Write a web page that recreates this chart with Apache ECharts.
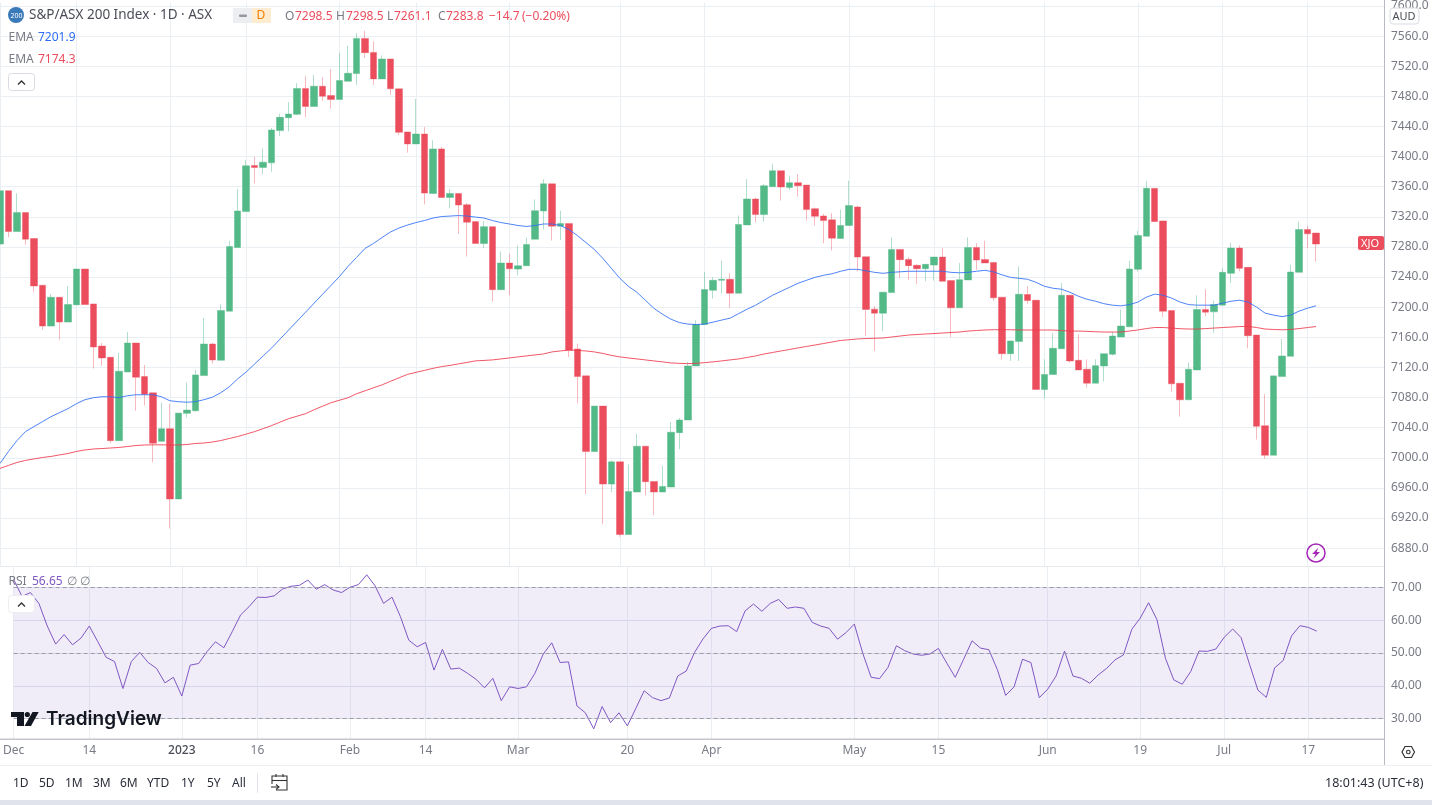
<!DOCTYPE html>
<html><head><meta charset="utf-8">
<style>html,body{margin:0;padding:0;background:#fff;overflow:hidden}#c{width:1432px;height:805px}</style>
<script src="https://cdn.jsdelivr.net/npm/echarts@6/dist/echarts.min.js"></script>
</head><body><div id="c"></div>
<script>
const tradingDays = {
 '2022-12':[1,2,5,6,7,8,9,12,13,14,15,16,19,20,21,22,23,28,29,30],
 '2023-01':[3,4,5,6,9,10,11,12,13,16,17,18,19,20,23,24,25,27,30,31],
 '2023-02':[1,2,3,6,7,8,9,10,13,14,15,16,17,20,21,22,23,24,27,28],
 '2023-03':[1,2,3,6,7,8,9,10,13,14,15,16,17,20,21,22,23,24,27,28,29,30,31],
 '2023-04':[3,4,5,6,11,12,13,14,17,18,19,20,21,24,26,27,28],
 '2023-05':[1,2,3,4,5,8,9,10,11,12,15,16,17,18,19,22,23,24,25,26,29,30,31],
 '2023-06':[1,2,5,6,7,8,9,13,14,15,16,19,20,21,22,23,26,27,28,29,30],
 '2023-07':[3,4,5,6,7,10,11,12,13,14,17,18]
};
const futureSlots = ['f1','f2','f3','f4','f5','f6','f7','f8'];
const xTicks = {'2022-12-1':'Dec','2022-12-14':'14','2023-01-3':'2023','2023-01-16':'16','2023-02-1':'Feb','2023-02-14':'14','2023-03-1':'Mar','2023-03-20':'20','2023-04-3':'Apr','2023-05-1':'May','2023-05-15':'15','2023-06-1':'Jun','2023-06-19':'19','2023-07-3':'Jul','2023-07-17':'17'};
const priceTicks = [6880,6920,6960,7000,7040,7080,7120,7160,7200,7240,7280,7320,7360,7400,7440,7480,7520,7560,7600];
const rsiTicks = [30,40,50,60,70];
const rsiLevels = [70,50,30];

const opens = [7283.8,7354.7,7300.5,7325.6,7291.2,7229.1,7174.9,7213.2,7180.2,7203.1,
7250.7,7204.4,7148.4,7133.5,7022.8,7114,7152.4,7107.9,7086.3,7021.9,
7038.7,6945.3,7059,7062.5,7109.2,7151.1,7129.5,7194.7,7279.3,7327,
7388.2,7385.6,7391.7,7434.5,7451.7,7456.1,7490.5,7466.6,7493.5,7481.2,
7475.9,7500.1,7510.2,7557,7538.4,7503.2,7529.6,7490,7432.7,7416.8,
7430,7351.1,7410.2,7345.8,7351.1,7336.1,7313.7,7284.6,7307,7223.3,
7258.6,7250.6,7255,7290.3,7327.8,7363.9,7307.5,7311,7144.5,7108.8,
7008.3,7068.7,6965.1,6994.6,6898.1,6954.5,7015.4,6968.6,6954.5,6961.2,
7033.4,7050.2,7122,7177.1,7222.5,7235.7,7237,7218.6,7309.3,7343.7,
7323,7360,7381.2,7359.1,7365.3,7362.2,7330.9,7321.2,7316,7291.3,
7308.5,7333.1,7267,7197.4,7192.1,7219.4,7276.7,7263.5,7255.6,7251.2,
7256,7266.6,7235.3,7199.2,7236.2,7279.4,7263.5,7259.5,7213.3,7138.3,
7154.6,7216.8,7209.3,7090.7,7110.6,7144.9,7215.9,7129.5,7117.6,7099.1,
7122,7137.4,7160.4,7174,7250.3,7294.3,7357.8,7314.6,7195.6,7099.1,
7077,7116.7,7196.9,7193.8,7202.7,7245,7278.5,7252.9,7163,7042.7,
7003.4,7107.9,7134.8,7246.3,7303.1,7298.5];
const closes = [7354.7,7300.5,7325.6,7290.4,7228.2,7174.9,7213.2,7180.2,7203.5,7250.7,
7203.5,7147.1,7132.6,7022.8,7114.9,7152.4,7107,7084.5,7019.3,7038.7,
6945.3,7059.4,7063.4,7110.1,7151.1,7129.9,7195.6,7280.7,7327.8,7387.8,
7385.6,7392.6,7435.4,7452.1,7456.5,7490.5,7466.6,7493.5,7480.3,7475.9,
7501,7510.7,7557,7538,7503.2,7529.6,7490,7432.2,7416.8,7430,
7351.5,7410.2,7345.8,7351.1,7335.7,7312.8,7284.6,7307,7223.3,7258.6,
7251,7255,7283.3,7328.2,7363.9,7307.5,7311,7142.7,7107.9,7008.3,
7068.7,6965.1,6994.6,6898.1,6955.4,7015.4,6968.2,6954.5,6962,7033.9,
7050.2,7122,7177.1,7223.4,7235.7,7237,7218.6,7309.8,7343.7,7323,
7361.3,7381.2,7359.6,7365.3,7361.3,7329.6,7320.8,7315,7291.7,7308.5,
7334.9,7266.6,7197,7192.1,7219.9,7276.7,7263.1,7255.2,7251.2,7256.9,
7266.6,7234.4,7199.2,7236.6,7279.4,7262.6,7258.7,7212.4,7138.3,7155,
7217.2,7208.8,7090.7,7110.6,7145.4,7215.9,7128.6,7116.7,7099.1,7122.4,
7138.3,7161.7,7174.9,7250.7,7295.2,7357.8,7313.7,7194.7,7098.2,7077,
7117.6,7196.9,7193.4,7203.5,7246.3,7278.5,7251.6,7162.1,7041.8,7003.4,
7108.8,7135.2,7246.7,7303.1,7297.4,7283.8];
const lows = [7283.8,7293,7300.5,7282.9,7220.3,7170,7174.9,7156.8,7180.2,7203.1,
7203.5,7118.5,7122.4,7019.3,7022.8,7114,7062.5,7069.5,6994.2,7021.9,
6906,6945.3,7053.7,7061.2,7109.2,7125.1,7129.5,7194.7,7279.3,7327,
7364.4,7376.3,7379.8,7427.4,7433.6,7454.8,7452.5,7466.6,7474.1,7463.6,
7475.9,7500.1,7495.2,7531,7495.2,7503.2,7482,7428.3,7405.3,7416.8,
7336.6,7351.1,7345.8,7331.3,7297.4,7267.4,7284.6,7278.4,7207.9,7223.3,
7215.8,7242.3,7255,7290.3,7303.5,7288.5,7289.4,7133.9,7072.2,6951.5,
7008.3,6911.8,6954.5,6895,6898.1,6954.5,6950.1,6923.7,6954.5,6961.2,
7011.4,7050.2,7122,7177.1,7211.5,7218.6,7199.2,7218.6,7309.3,7312.9,
7313.7,7360,7341.5,7355.6,7346.8,7315,7308.5,7285.1,7275.4,7291.3,
7308.5,7247.6,7161.7,7141.9,7168.3,7219.4,7238.8,7236.2,7230.9,7234.4,
7235.3,7234.4,7160.4,7199.2,7236.2,7249.8,7258.7,7208.9,7130.8,7128.6,
7128.6,7204.4,7090.7,7078.8,7110.6,7144.9,7126.4,7116.7,7093.4,7099.1,
7101.3,7136,7160.4,7174,7247.6,7294.3,7313.7,7186.8,7088,7054.6,
7077,7116.7,7188,7166,7202.7,7232.2,7247.6,7145.4,7024.2,6998.6,
7003.4,7107.9,7134.8,7246,7278.5,7261.1];
const highs = [7358,7354.7,7351.2,7325.6,7291.2,7229.1,7217.6,7213.2,7227.8,7250.7,
7250.7,7204.4,7152.4,7133.5,7139.2,7167,7152.4,7123.3,7086.3,7073,
7071.3,7059.4,7100,7116.7,7185.9,7152.8,7203.5,7288.2,7356.9,7395.3,
7399.7,7410.7,7438,7457,7472.4,7497.5,7506.8,7508.5,7505.4,7516.5,
7537.6,7547.2,7564,7567,7553,7534,7529.6,7490,7432.7,7476.7,
7439.3,7421.6,7412.8,7356.9,7351.1,7338.3,7313.7,7314.5,7307,7274,
7270.9,7282,7292.5,7343.2,7370,7363.9,7328.2,7311,7151.5,7108.8,
7068.7,7068.7,6996.4,6994.6,6991.1,7031.7,7015.4,6968.6,6989.8,7047.5,
7052.8,7127.3,7182.8,7246.8,7239.7,7261.7,7245,7321.7,7370.2,7345.5,
7363.5,7390.4,7381.2,7374.6,7376.8,7362.2,7332.3,7323.9,7324.8,7329.6,
7368,7334.9,7267,7201.4,7219.9,7292.6,7276.7,7266.2,7257,7256.9,
7266.6,7278.5,7235.3,7258.7,7292.6,7285.1,7288.2,7259.5,7213.3,7156,
7254.2,7227.8,7209.3,7130.8,7166,7232.2,7215.9,7163.9,7130.8,7130.8,
7138.3,7167.4,7197,7261.7,7301.4,7367.5,7357.8,7314.6,7195.6,7099.1,
7126.4,7215.9,7223.8,7208.8,7252,7285.5,7282,7252.9,7163,7084.6,
7108.8,7157.7,7256.4,7313.7,7308,7298.5];
const emaBlue = [6992.5,7008.4,7022.9,7034.8,7041.4,7048,7054.6,7059.9,7065.2,7071.8,
7077.1,7079.8,7081.1,7081.1,7079.8,7082.4,7083.7,7083.7,7083.7,7081.1,
7075.8,7074.5,7073.8,7074.5,7077.1,7080.4,7086.4,7094.3,7104.9,7114.1,
7124.7,7135.3,7145.9,7157.8,7169.7,7181.6,7193.5,7205.4,7217.3,7229.1,
7241,7254.3,7266.2,7278.1,7284.7,7292.6,7299.9,7305.2,7309.1,7312.4,
7315.1,7318.4,7320.4,7321,7321.7,7321,7319.7,7318.4,7315.1,7312.4,
7310.5,7308.5,7307.2,7308.5,7310.5,7310.5,7308.5,7303.2,7295.2,7286,
7276.7,7264.8,7251.6,7238.4,7227.8,7219.9,7209.3,7198.7,7190.8,7184.2,
7179.6,7177.6,7176.9,7177.6,7180.2,7182.9,7185.5,7191.5,7197.4,7202.7,
7209.3,7215.9,7221.2,7226.5,7231.8,7235.8,7239.7,7242.4,7244.4,7247.7,
7250.3,7250.3,7248.3,7246.3,7245,7246.3,7247,7247.7,7247.7,7247.7,
7247.7,7247.7,7246.3,7245.7,7246.3,7247.7,7249,7247,7243,7239.7,
7238.4,7237.1,7233.1,7227.8,7225.2,7223.9,7219.9,7214.6,7210.6,7208,
7204.7,7202.7,7201.8,7203.4,7206.7,7213.3,7217.3,7215.9,7212,7206.7,
7203.4,7202.7,7202.7,7202.7,7205.4,7208,7209.3,7206.7,7200.1,7192.1,
7189.5,7187.5,7189.5,7194.8,7198.7,7201.9];
const emaRed = [6985.9,6989.9,6993.8,6996.5,6998.5,7000.4,7001.8,7003.8,7005.7,7008.4,
7010.4,7011.7,7012.3,7013,7013.7,7015,7016.3,7017,7017.2,7017.2,
7017,7017,7017.6,7019,7019.6,7020.9,7022.9,7025.6,7028.2,7031.5,
7034.8,7038.8,7042.8,7047.4,7052,7055.3,7058.6,7063.9,7068.5,7073.2,
7076.5,7079.8,7085.1,7089,7093,7096.9,7101.6,7106.2,7110.8,7113.5,
7116.1,7118.8,7121.1,7122.7,7124.7,7126.7,7128.7,7129.3,7130,7131.3,
7132.6,7134,7135.3,7136.6,7137.9,7140.6,7141.9,7143.2,7142.6,7141.9,
7140.6,7138.6,7136,7134,7132.6,7131.3,7130,7128.7,7127.4,7126,
7125.4,7125.1,7125.4,7126.4,7127.4,7128.7,7130,7131.3,7133.3,7135.3,
7137.9,7139.9,7141.9,7143.9,7145.9,7147.9,7149.8,7151.8,7153.8,7155.8,
7156.8,7157.8,7158.4,7158.7,7159.1,7160.4,7161.7,7163,7163.7,7164.4,
7165,7165.7,7166.4,7167,7168.3,7169,7169.7,7170.1,7170.1,7170.1,
7169.7,7169.7,7169.7,7169.7,7169.7,7169,7168.3,7168.3,7167.9,7167.4,
7167,7167,7167,7168.3,7169.7,7171.6,7173,7173,7172.3,7171.4,
7171,7171,7171.6,7172.3,7173,7173.6,7174.3,7174.5,7173,7171,
7170.4,7170,7170.4,7171.6,7173,7174.3];
const rsiValues = [72.4,67.2,68.4,65.1,58.2,52.7,55.6,52.5,54.5,58.2,
53.5,48.7,47.4,39.2,47.4,50.2,47.1,45.3,40.9,42.6,
36.9,46.3,46.8,50.4,53.4,51.6,56.5,61.6,64.1,67,
66.9,67.4,69.5,70.3,70.6,72.2,69.4,70.8,69.2,68.4,
70,70.8,73.8,70.4,65.1,67,61.1,53.9,51.9,53.2,
44.8,51.1,45.1,45.4,43.8,42,39.4,42.3,35.5,39.7,
39.2,39.7,43.8,49.7,53.1,47.1,47.3,33.9,31.8,26.9,
33.7,28.8,31.8,27.8,33.1,38.5,36.4,35.5,36.3,43,
44.5,50.2,54.3,57.5,58.2,58.3,56.5,62.8,64.9,62.7,
65.1,66.3,63.6,64,63.6,59.3,58.2,57.5,54.2,56.2,
58.8,49.9,42.6,42.2,45.6,52.2,50.7,49.7,49.3,49.7,
51.4,46.9,42.6,48.1,53.7,51.5,51,45,37.1,39.7,
48.1,47.1,36.4,39,43,50.6,43,42.3,40.8,43.3,
45.3,47.9,49.4,57.2,60.6,65.3,60.1,48.4,41.8,40.5,
44.3,50.6,50.5,51.2,54.8,57.3,54.7,46.6,38.7,36.5,
45.5,47.7,55.2,58.3,57.8,56.65];

const categories = Object.entries(tradingDays)
  .flatMap(([m, days]) => days.map(d => m + '-' + d)).concat(futureSlots);
const candleData = opens.map((o, i) => [o, closes[i], lows[i], highs[i]]);

const GREEN = '#53b987', RED = '#eb4d5c', BLUE = '#2f6df6', PURPLE = '#7e57c2';
const GRID = '#eaeff4', GREY = '#787b86', DARK = '#4a4d57';
const FONT = '"Noto Sans", "Open Sans", sans-serif';

const isTick = (i, v) => !!xTicks[v];
const xBase = {
  type: 'category', data: categories, boundaryGap: false,
  axisLine: {show: false}, axisTick: {show: false},
  splitLine: {show: true, interval: isTick, lineStyle: {color: GRID, width: 1}}
};

function txt(x, y, s, fill, size, extra) {
  return Object.assign({type: 'text', z: 20, style: Object.assign({x, y, text: s, fill, font: (size || 12) + 'px ' + FONT, textVerticalAlign: 'middle', verticalAlign: 'middle'}, {})}, extra || {});
}
function box(x, y, w, h, fill, stroke, r) {
  return {type: 'rect', z: 19, shape: {x, y, width: w, height: h, r: r || 0}, style: {fill: fill || 'transparent', stroke: stroke || 'transparent', lineWidth: 1}};
}
function poly(pts, stroke, lw) {
  return {type: 'polyline', z: 21, shape: {points: pts}, style: {fill: 'transparent', stroke, lineWidth: lw || 1.3}};
}

const rangeButtons = [['1D',13],['5D',39],['1M',65],['3M',93],['6M',120],['YTD',147],['1Y',181],['5Y',207],['All',232]];
const ohlcRow = [['O',285,GREY],['7298.5',295,RED],['H',336,GREY],['7298.5',346,RED],['L',387,GREY],['7261.1',394,RED],['C',438,GREY],['7283.8',446,RED],['−14.7',489,RED],['(−0.20%)',522,RED]];

const chrome = [
  // panel separators and price-scale edge
  {type:'rect', z:1, shape:{x:0,y:566,width:1384,height:1}, style:{fill:'#e6e9ee'}},
  {type:'rect', z:1, shape:{x:0,y:738.5,width:1384,height:1.5}, style:{fill:'#c4c6cc'}},
  {type:'rect', z:1, shape:{x:1384,y:0,width:1,height:765}, style:{fill:'#b8bbc2'}},
  {type:'rect', z:1, shape:{x:0,y:765,width:1432,height:1}, style:{fill:'#eceef2'}},
  {type:'rect', z:1, shape:{x:0,y:800,width:1432,height:5}, style:{fill:'#e0e3eb'}},
  // header
  {type:'circle', z:19, shape:{cx:16,cy:15,r:8}, style:{fill:'#3b7ab8'}},
  txt(10.5,15.5,'200','#fff',7),
  txt(29,15.5,'S&P/ASX 200 Index · 1D · ASX',DARK,13.5),
  box(233,8,19,15,'#eceef2',null,0),
  box(252,8,19,15,'#fdeccf',null,0),
  {type:'rect', z:20, shape:{x:239,y:14.5,width:8,height:2.5,r:1}, style:{fill:'#9598a1'}},
  txt(256.5,15.5,'D','#f57c00',12,{}),
  ...ohlcRow.map(r => txt(r[1],16.5,r[0],r[2],12)),
  txt(8.5,38,'EMA',GREY,12), txt(38,38,'7201.9',BLUE,12),
  txt(8.5,60,'EMA',GREY,12), txt(38,60,'7174.3',RED,12),
  box(8.5,73.5,26,17,'#fff','#d8dbe2',3),
  poly([[18,84.5],[21.5,81],[25,84.5]],'#333'),
  txt(8.5,582,'RSI',GREY,12), txt(32,582,'56.65',PURPLE,12), txt(67,582,'∅',GREY,12), txt(80,582,'∅',GREY,12),
  box(8.5,595.5,26,17,'#fff','#ececf1',3),
  poly([[18,606.5],[21.5,603],[25,606.5]],'#333'),
  // AUD selector
  box(1390,8,29,16,'#fff','#d8dbe2',3),
  txt(1392.5,16.5,'AUD',DARK,11),
  // XJO tag
  box(1358,236,26,14,RED,null,2),
  txt(1361,243.5,'XJO','#fff',11),
  // lightning icon
  {type:'circle', z:20, shape:{cx:1316,cy:553,r:9}, style:{fill:'#fff',stroke:'#a626b8',lineWidth:1.5}},
  {type:'polygon', z:21, shape:{points:[[1318.5,547.5],[1312,554],[1315.5,554],[1313.5,558.5],[1320,552],[1316.5,552]]}, style:{fill:'#a626b8'}},
  // TradingView mark
  {type:'polygon', z:20, shape:{points:[[11,712],[24,712],[24,726],[17,726],[17,717],[11,717]]}, style:{fill:'#131722'}},
  {type:'circle', z:20, shape:{cx:27.3,cy:714.5,r:2.6}, style:{fill:'#131722'}},
  {type:'polygon', z:20, shape:{points:[[32.5,712],[38.7,712],[31,726],[24.5,726]]}, style:{fill:'#131722'}},
  {type:'text', z:20, style:{x:46,y:719.5,text:'TradingView',fill:'#131722',font:'600 19px Inter, '+FONT,textVerticalAlign:'middle',verticalAlign:'middle'}},
  // settings icon
  {type:'polygon', z:20, shape:{points:[[1402,752],[1405,746.5],[1411.5,746.5],[1414.5,752],[1411.5,757.5],[1405,757.5]]}, style:{fill:'transparent',stroke:'#333',lineWidth:1.2}},
  {type:'circle', z:20, shape:{cx:1408.3,cy:752,r:1.8}, style:{fill:'transparent',stroke:'#333',lineWidth:1.1}},
  // range bar
  ...rangeButtons.map(b => txt(b[1],783.5,b[0],'#2a2e39',12)),
  {type:'rect', z:20, shape:{x:257,y:773,width:1,height:20}, style:{fill:'#e0e3eb'}},
  poly([[272,784],[272,776],[287,776],[287,790],[276,790]],'#333',1.1),
  poly([[272,780.5],[287,780.5]],'#333',1.1),
  poly([[276,774],[276,777]],'#333',1.1), poly([[283,774],[283,777]],'#333',1.1),
  poly([[271,787],[279,787]],'#333',1.1), poly([[276,784.5],[279,787],[276,789.5]],'#333',1.1),
  txt(1325,783.5,'18:01:43 (UTC+8)','#2a2e39',12.5)
];

const chart = echarts.init(document.getElementById('c'), null, {renderer: 'canvas'});
chart.setOption({
  animation: false,
  backgroundColor: '#fff',
  grid: [
    {left: -2, right: 48, top: 0, height: 566, containLabel: false},
    {left: -2, right: 48, top: 566, height: 173, containLabel: false}
  ],
  xAxis: [
    Object.assign({gridIndex: 0, axisLabel: {show: false}}, xBase),
    Object.assign({gridIndex: 1, axisLabel: {
      show: true, interval: isTick, margin: 6, color: GREY, fontSize: 12, fontFamily: FONT,
      formatter: v => xTicks[v] === '2023' ? '{b|2023}' : (xTicks[v] || ''),
      rich: {b: {color: '#4a4d57', fontSize: 12, fontFamily: FONT, fontWeight: 500}}
    }}, xBase)
  ],
  yAxis: [
    {gridIndex: 0, type: 'value', position: 'right', min: 6856.3, max: 7604.6,
     axisLine: {show: false},
     axisTick: {show: false, customValues: priceTicks},
     axisLabel: {customValues: priceTicks, margin: 7, color: GREY, fontSize: 12, fontFamily: FONT, formatter: v => v.toFixed(1)},
     splitLine: {show: true, lineStyle: {color: GRID, width: 1}}},
    {gridIndex: 1, type: 'value', position: 'right', min: 23.82, max: 76.48,
     axisLine: {show: false},
     axisTick: {show: false, customValues: rsiTicks},
     axisLabel: {customValues: rsiTicks, margin: 7, color: GREY, fontSize: 12, fontFamily: FONT, formatter: v => v.toFixed(2)},
     splitLine: {show: true, lineStyle: {color: '#dfe3f2', width: 1}}}
  ],
  series: [
    {type: 'candlestick', xAxisIndex: 0, yAxisIndex: 0, data: candleData, barWidth: 7, z: 3,
     itemStyle: {color: GREEN, color0: RED, borderColor: 'rgba(83,185,135,0.45)', borderColor0: 'rgba(235,77,92,0.4)', borderWidth: 1}},
    {type: 'line', name: 'EMA 20', xAxisIndex: 0, yAxisIndex: 0, data: emaBlue, showSymbol: false, symbol: 'none', z: 4,
     lineStyle: {color: BLUE, width: 1, opacity: 0.85}},
    {type: 'line', name: 'EMA 100', xAxisIndex: 0, yAxisIndex: 0, data: emaRed, showSymbol: false, symbol: 'none', z: 4,
     lineStyle: {color: '#ee3a4c', width: 1, opacity: 0.85}},
    {type: 'line', name: 'RSI', xAxisIndex: 1, yAxisIndex: 1, data: rsiValues, showSymbol: false, symbol: 'none', z: 4,
     lineStyle: {color: PURPLE, width: 1},
     markArea: {silent: true, itemStyle: {color: 'rgba(126,87,194,0.11)'}, data: [[{yAxis: rsiLevels[0]}, {yAxis: rsiLevels[2]}]]},
     markLine: {silent: true, symbol: 'none', label: {show: false}, animation: false,
       lineStyle: {color: '#9b9ca6', type: [4, 3], width: 1},
       data: rsiLevels.map(v => ({yAxis: v}))}}
  ],
  graphic: {elements: chrome}
});
</script></body></html>
